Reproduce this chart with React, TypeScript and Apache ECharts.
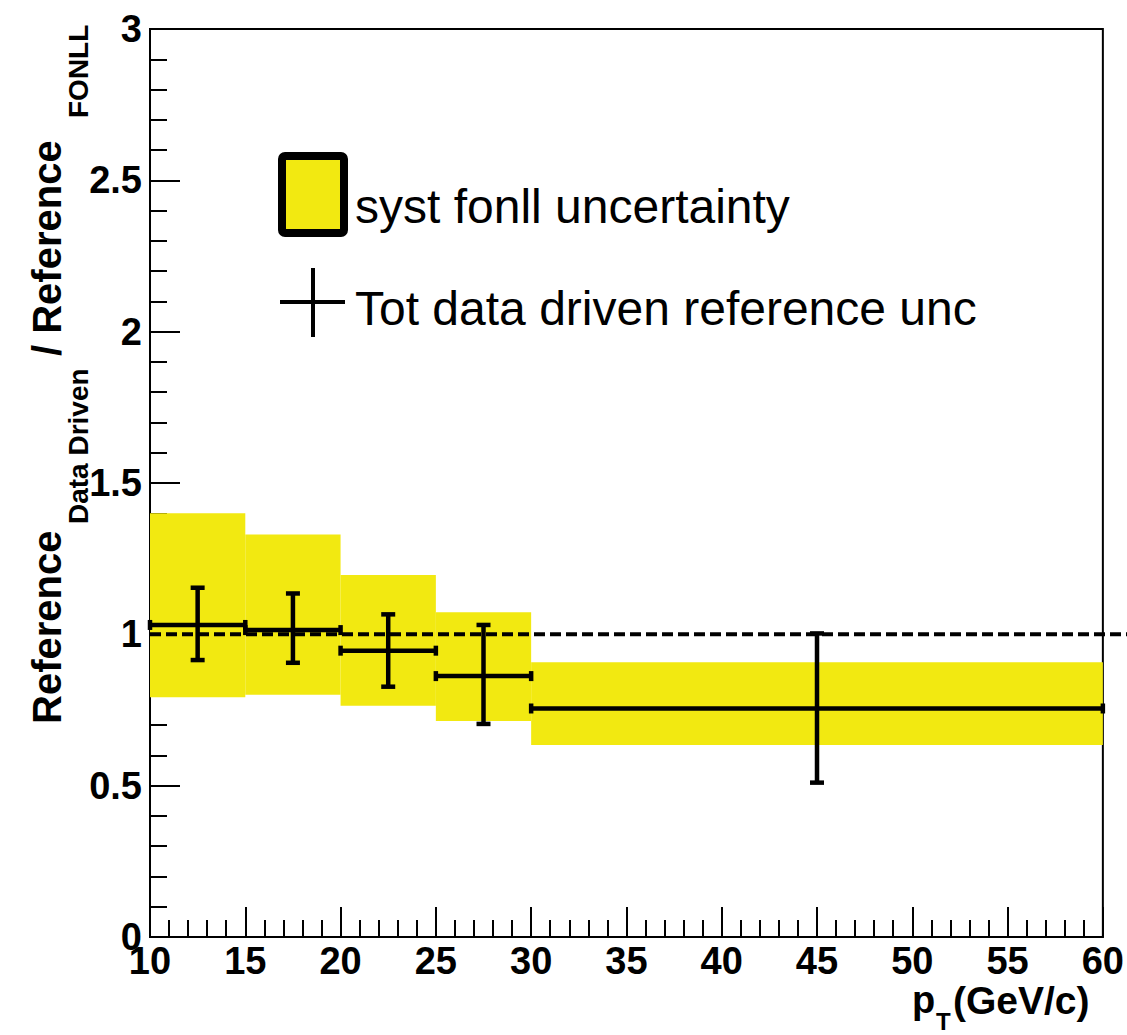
import React, { useEffect, useRef } from "react";
import * as echarts from "echarts";

// ---- data ----
const binLow = [10, 15, 20, 25, 30];
const binHigh = [15, 20, 25, 30, 60];
const binCenter = [12.5, 17.5, 22.5, 27.5, 45];
const ratio = [1.031, 1.014, 0.946, 0.862, 0.755];
const errLow = [0.915, 0.906, 0.827, 0.704, 0.51];
const errHigh = [1.154, 1.135, 1.066, 1.031, 1.003];
const systLow = [0.792, 0.8, 0.764, 0.714, 0.634];
const systHigh = [1.4, 1.33, 1.196, 1.073, 0.908];
const refLevel = 1;

const legendSyst = "syst fonll uncertainty";
const legendData = "Tot data driven reference unc";

const FF = '"Liberation Sans", Arial, Helvetica, sans-serif';
const YELLOW = "#f2e911";

export default function App() {
  const ref = useRef<HTMLDivElement>(null);

  useEffect(() => {
    if (!ref.current) return;
    const chart = echarts.init(ref.current, undefined, { renderer: "svg" });

    const boxData = binLow.map((lo, i) => [lo, binHigh[i], systLow[i], systHigh[i]]);
    const errData = binCenter.map((c, i) => [c, ratio[i], binLow[i], binHigh[i], errLow[i], errHigh[i]]);

    const axisCommon = {
      type: "value" as const,
      axisLine: { show: true, onZero: false, lineStyle: { color: "#000", width: 2 } },
      axisTick: { show: true, inside: true, length: 30, lineStyle: { color: "#000", width: 2 } },
      minorTick: { show: true, splitNumber: 5, length: 17, lineStyle: { color: "#000", width: 2 } },
      splitLine: { show: false },
      minorSplitLine: { show: false },
    };

    const option: any = {
      animation: false,
      grid: {
        left: 150,
        right: 23,
        top: 29,
        bottom: 98,
        show: true,
        borderColor: "#000",
        borderWidth: 2,
        backgroundColor: "transparent",
      },
      xAxis: {
        ...axisCommon,
        min: 10,
        max: 60,
        interval: 5,
        axisLabel: { color: "#000", fontSize: 38, fontWeight: "bold", fontFamily: FF, margin: 5 },
      },
      yAxis: {
        ...axisCommon,
        min: 0,
        max: 3,
        interval: 0.5,
        axisLabel: { color: "#000", fontSize: 38, fontWeight: "bold", fontFamily: FF, margin: 8 },
      },
      series: [
        {
          type: "custom",
          name: "syst",
          data: boxData,
          encode: { x: [0, 1], y: [2, 3] },
          z: 1,
          renderItem: (params: any, api: any) => {
            const p1 = api.coord([api.value(0), api.value(3)]);
            const p2 = api.coord([api.value(1), api.value(2)]);
            return {
              type: "rect",
              shape: { x: p1[0], y: p1[1], width: p2[0] - p1[0], height: p2[1] - p1[1] },
              style: { fill: YELLOW, stroke: null },
            };
          },
        },
        {
          type: "custom",
          name: "ref",
          data: [[10, refLevel]],
          encode: { x: 0, y: 1 },
          z: 2,
          clip: false,
          renderItem: (params: any, api: any) => {
            const p = api.coord([api.value(0), api.value(1)]);
            return {
              type: "line",
              shape: { x1: p[0], y1: p[1], x2: api.getWidth(), y2: p[1] },
              style: { stroke: "#000", lineWidth: 4, lineDash: [11, 5] },
            };
          },
        },
        {
          type: "custom",
          name: "data",
          data: errData,
          encode: { x: [0, 2, 3], y: [1, 4, 5] },
          z: 3,
          renderItem: (params: any, api: any) => {
            const c = api.coord([api.value(0), api.value(1)]);
            const l = api.coord([api.value(2), api.value(1)]);
            const r = api.coord([api.value(3), api.value(1)]);
            const lo = api.coord([api.value(0), api.value(4)]);
            const hi = api.coord([api.value(0), api.value(5)]);
            const st = { stroke: "#000", lineWidth: 4.5 };
            const cw = 7;
            const ch = 5;
            return {
              type: "group",
              children: [
                { type: "line", shape: { x1: l[0], y1: c[1], x2: r[0], y2: c[1] }, style: st },
                { type: "line", shape: { x1: c[0], y1: lo[1], x2: c[0], y2: hi[1] }, style: st },
                { type: "line", shape: { x1: c[0] - cw, y1: lo[1], x2: c[0] + cw, y2: lo[1] }, style: st },
                { type: "line", shape: { x1: c[0] - cw, y1: hi[1], x2: c[0] + cw, y2: hi[1] }, style: st },
                { type: "line", shape: { x1: l[0], y1: c[1] - ch, x2: l[0], y2: c[1] + ch }, style: st },
                { type: "line", shape: { x1: r[0], y1: c[1] - ch, x2: r[0], y2: c[1] + ch }, style: st },
              ],
            };
          },
        },
      ],
      graphic: [
        // legend
        {
          type: "rect",
          shape: { x: 282, y: 156, width: 62, height: 77, r: 3 },
          style: { fill: YELLOW, stroke: "#000", lineWidth: 8 },
          z: 10,
        },
        {
          type: "text",
          x: 355,
          y: 206,
          style: { text: legendSyst, font: `48px ${FF}`, fill: "#000", textAlign: "left", textVerticalAlign: "middle" },
          z: 10,
        },
        { type: "line", shape: { x1: 280, y1: 302, x2: 345, y2: 302 }, style: { stroke: "#000", lineWidth: 4 }, z: 10 },
        { type: "line", shape: { x1: 313, y1: 268, x2: 313, y2: 337 }, style: { stroke: "#000", lineWidth: 4 }, z: 10 },
        {
          type: "text",
          x: 355,
          y: 308,
          style: { text: legendData, font: `48px ${FF}`, fill: "#000", textAlign: "left", textVerticalAlign: "middle" },
          z: 10,
        },
        // y-axis title
        {
          type: "text",
          x: 47,
          y: 724,
          rotation: Math.PI / 2,
          style: { text: "Reference", font: `bold 40px ${FF}`, fill: "#000", textAlign: "left", textVerticalAlign: "middle" },
        },
        {
          type: "text",
          x: 78,
          y: 524,
          rotation: Math.PI / 2,
          style: { text: "Data Driven", font: `bold 28px ${FF}`, fill: "#000", textAlign: "left", textVerticalAlign: "middle" },
        },
        {
          type: "text",
          x: 47,
          y: 356,
          rotation: Math.PI / 2,
          style: { text: "/ Reference", font: `bold 40px ${FF}`, fill: "#000", textAlign: "left", textVerticalAlign: "middle" },
        },
        {
          type: "text",
          x: 78,
          y: 118,
          rotation: Math.PI / 2,
          style: { text: "FONLL", font: `bold 28px ${FF}`, fill: "#000", textAlign: "left", textVerticalAlign: "middle" },
        },
        // x-axis title
        {
          type: "text",
          x: 912,
          y: 1000,
          style: { text: "p", font: `bold 38px ${FF}`, fill: "#000", textAlign: "left", textVerticalAlign: "middle" },
        },
        {
          type: "text",
          x: 936,
          y: 1021,
          style: { text: "T", font: `bold 24px ${FF}`, fill: "#000", textAlign: "left", textVerticalAlign: "middle" },
        },
        {
          type: "text",
          x: 953,
          y: 1000,
          style: { text: "(GeV/c)", font: `bold 39px ${FF}`, fill: "#000", textAlign: "left", textVerticalAlign: "middle" },
        },
      ],
    };

    chart.setOption(option);
    return () => {
      chart.dispose();
    };
  }, []);

  return (
    <div
      ref={ref}
      style={{ position: "fixed", left: 0, top: 0, width: 1127, height: 1035, background: "#fff" }}
    />
  );
}
